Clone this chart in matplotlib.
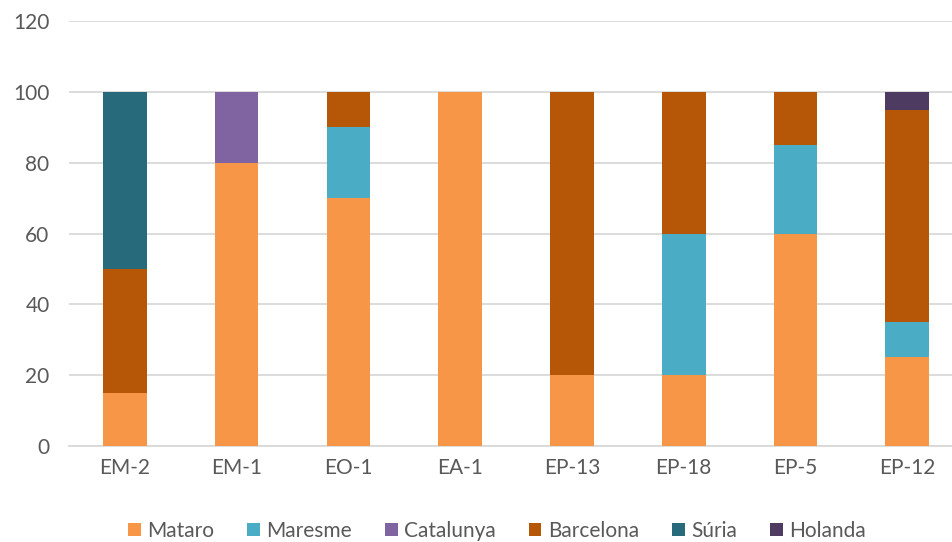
import numpy as np
import matplotlib.pyplot as plt
from matplotlib.patches import Patch

plt.rcParams['font.family'] = ['Lato', 'DejaVu Sans']

categories = ['EM-2', 'EM-1', 'EO-1', 'EA-1', 'EP-13', 'EP-18', 'EP-5', 'EP-12']
series = ['Mataro', 'Maresme', 'Catalunya', 'Barcelona', 'Súria', 'Holanda']
mataro    = [15, 80, 70, 100, 20, 20, 60, 25]
maresme   = [0, 0, 20, 0, 0, 40, 25, 10]
catalunya = [0, 20, 0, 0, 0, 0, 0, 0]
barcelona = [35, 0, 10, 0, 80, 40, 15, 60]
suria     = [50, 0, 0, 0, 0, 0, 0, 0]
holanda   = [0, 0, 0, 0, 0, 0, 0, 5]
colors = ['#F79646', '#4BACC6', '#8064A2', '#B65708', '#276A7C', '#4D3B62']

fig = plt.figure(figsize=(9.52, 5.42), dpi=100)
ax = fig.add_axes([69 / 952, 96 / 542, 1 - 69 / 952, 425 / 542])

x = np.arange(len(categories))
bottom = np.zeros(len(categories))
for name, vals, c in zip(series, [mataro, maresme, catalunya, barcelona, suria, holanda], colors):
    v = np.array(vals, dtype=float)
    ax.bar(x, v, 0.39, bottom=bottom, color=c, label=name, zorder=3)
    bottom += v

ax.set_ylim(0, 120)
ax.set_yticks(range(0, 121, 20))
ax.set_xlim(-0.5, 7.4)
ax.set_xticks(x)
ax.set_xticklabels(categories)
ax.grid(axis='y', color='#D9D9D9', linewidth=1.3, zorder=0)
for s in ['top', 'right', 'left']:
    ax.spines[s].set_visible(False)
ax.spines['bottom'].set_color('#D9D9D9')
ax.spines['bottom'].set_linewidth(1.3)
ax.tick_params(axis='both', length=0, labelsize=15, colors='#595959')
ax.tick_params(axis='y', pad=14)
ax.tick_params(axis='x', pad=9)

handles = [Patch(facecolor=c, label=n) for n, c in zip(series, colors)]
fig.legend(handles=handles, loc='center', bbox_to_anchor=(0.522, 0.02), ncol=6,
           frameon=False, fontsize=15, handlelength=0.6, handleheight=0.6,
           handletextpad=0.3, columnspacing=1.6, labelcolor='#595959')

fig.savefig('out.png', dpi=100)
